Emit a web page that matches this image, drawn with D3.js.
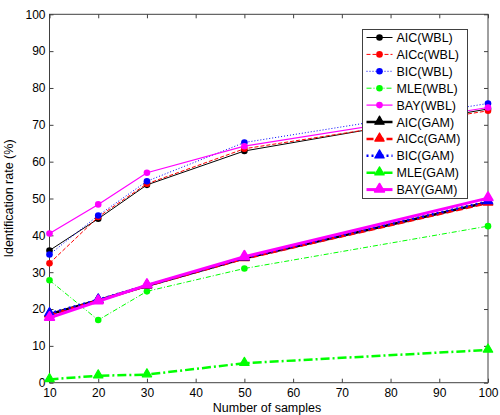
<!DOCTYPE html>
<html>
<head>
<meta charset="utf-8">
<script src="https://cdn.jsdelivr.net/npm/d3@7"></script>
<style>
body { margin: 0; background: #fff; }
svg { font-family: "Liberation Sans", Arial, sans-serif; }
</style>
</head>
<body>
<svg width="500" height="415"></svg>
<script>
var samples = [10, 20, 30, 50, 100];

var aicWbl  = [35.9, 44.5, 53.7, 62.9, 74.3];
var aiccWbl = [32.4, 45.0, 54.0, 63.5, 73.8];
var bicWbl  = [34.8, 45.4, 54.7, 65.2, 75.8];
var mleWbl  = [27.8, 17.0, 24.8, 31.0, 42.5];
var bayWbl  = [40.5, 48.4, 57.0, 64.2, 74.7];

var aicGam  = [18.6, 22.4, 26.3, 33.8, 49.0];
var aiccGam = [18.4, 22.3, 26.3, 33.7, 48.8];
var bicGam  = [18.8, 22.5, 26.4, 33.9, 49.2];
var mleGam  = [0.9, 1.9, 2.2, 5.3, 8.9];
var bayGam  = [17.6, 22.1, 26.5, 34.2, 50.1];

var labels = ["AIC(WBL)", "AICc(WBL)", "BIC(WBL)", "MLE(WBL)", "BAY(WBL)",
              "AIC(GAM)", "AICc(GAM)", "BIC(GAM)", "MLE(GAM)", "BAY(GAM)"];
var xTicks = [10, 20, 30, 40, 50, 60, 70, 80, 90, 100];
var yTicks = [0, 10, 20, 30, 40, 50, 60, 70, 80, 90, 100];

var series = [
  {name: labels[0], values: aicWbl,  color: "#000000", dash: null,        width: 1,   marker: "circle"},
  {name: labels[1], values: aiccWbl, color: "#ff0000", dash: "4,2",       width: 1,   marker: "circle"},
  {name: labels[2], values: bicWbl,  color: "#0000ff", dash: "1,2",       width: 1,   marker: "circle"},
  {name: labels[3], values: mleWbl,  color: "#00ff00", dash: "5,2,1,2",   width: 1,   marker: "circle"},
  {name: labels[4], values: bayWbl,  color: "#ff00ff", dash: null,        width: 1.2, marker: "circle"},
  {name: labels[5], values: aicGam,  color: "#000000", dash: null,        width: 2.5, marker: "triangle"},
  {name: labels[6], values: aiccGam, color: "#ff0000", dash: "7,3",       width: 2.5, marker: "triangle"},
  {name: labels[7], values: bicGam,  color: "#0000ff", dash: "2,3",       width: 2.5, marker: "triangle"},
  {name: labels[8], values: mleGam,  color: "#00ff00", dash: "9,3,2,3",   width: 2.5, marker: "triangle"},
  {name: labels[9], values: bayGam,  color: "#ff00ff", dash: null,        width: 3,   marker: "triangle"}
];

var svg = d3.select("svg");
var pLeft = 49.5, pRight = 488, pTop = 14.3, pBottom = 382.7;

var x = d3.scaleLinear().domain([10, 100]).range([pLeft, pRight]);
var y = d3.scaleLinear().domain([0, 100]).range([pBottom, pTop]);

var axisColor = "#404040";

// frame
svg.append("rect")
    .attr("x", pLeft).attr("y", pTop)
    .attr("width", pRight - pLeft).attr("height", pBottom - pTop)
    .attr("fill", "none").attr("stroke", axisColor).attr("stroke-width", 1);

function styleAxis(g) {
  g.select(".domain").remove();
  g.selectAll(".tick line").attr("stroke", axisColor);
  g.selectAll(".tick text").attr("fill", "#000").attr("font-size", 12)
    .attr("font-family", "Liberation Sans, Arial, sans-serif");
}

svg.append("g").attr("transform", "translate(0," + pBottom + ")")
    .call(d3.axisBottom(x).tickValues(xTicks).tickSizeInner(-4).tickSizeOuter(0).tickPadding(6))
    .call(styleAxis);
svg.append("g").attr("transform", "translate(0," + pTop + ")")
    .call(d3.axisTop(x).tickValues(xTicks).tickSizeInner(-4).tickSizeOuter(0).tickFormat(""))
    .call(styleAxis);
svg.append("g").attr("transform", "translate(" + pLeft + ",0)")
    .call(d3.axisLeft(y).tickValues(yTicks).tickSizeInner(-4).tickSizeOuter(0).tickPadding(4))
    .call(styleAxis);
svg.append("g").attr("transform", "translate(" + pRight + ",0)")
    .call(d3.axisRight(y).tickValues(yTicks).tickSizeInner(-4).tickSizeOuter(0).tickFormat(""))
    .call(styleAxis);

svg.append("text")
    .attr("x", 267).attr("y", 411.5)
    .attr("text-anchor", "middle").attr("font-size", 12.5)
    .text("Number of samples");

svg.append("text")
    .attr("transform", "translate(13," + (pTop + pBottom) / 2 + ") rotate(-90)")
    .attr("text-anchor", "middle").attr("font-size", 12.5)
    .text("Identification rate (%)");

var line = d3.line()
    .x(function(d, i) { return x(samples[i]); })
    .y(function(d) { return y(d); });

var tri = d3.symbol().type(d3.symbolTriangle).size(38);

function drawMarker(sel, s, cx, cy) {
  if (s.marker === "circle") {
    sel.append("circle").attr("cx", cx).attr("cy", cy).attr("r", 3.3)
        .attr("fill", s.color);
  } else {
    sel.append("path").attr("d", tri)
        .attr("transform", "translate(" + cx + "," + (cy - 0.5) + ")")
        .attr("fill", s.color).attr("stroke", s.color)
        .attr("stroke-width", s.width > 2.8 ? 2 : 1.2)
        .attr("stroke-linejoin", "round");
  }
}

var plot = svg.append("g");
series.forEach(function(s) {
  var g = plot.append("g");
  g.append("path")
      .datum(s.values)
      .attr("d", line)
      .attr("fill", "none")
      .attr("stroke", s.color)
      .attr("stroke-width", s.width)
      .attr("stroke-dasharray", s.dash);
  s.values.forEach(function(v, i) {
    drawMarker(g, s, x(samples[i]), y(v));
  });
});

// legend
var lx = 362.5, ly = 29.5, lw = 105, lh = 169;
var legend = svg.append("g");
legend.append("rect")
    .attr("x", lx).attr("y", ly).attr("width", lw).attr("height", lh)
    .attr("fill", "#fff").attr("stroke", axisColor).attr("stroke-width", 1);

series.forEach(function(s, i) {
  var cy = ly + 8 + i * 16.9;
  var g = legend.append("g");
  g.append("line")
      .attr("x1", lx + 4).attr("x2", lx + 30)
      .attr("y1", cy).attr("y2", cy)
      .attr("stroke", s.color).attr("stroke-width", s.width)
      .attr("stroke-dasharray", s.dash);
  drawMarker(g, s, lx + 17, cy);
  g.append("text")
      .attr("x", lx + 34).attr("y", cy + 4.5)
      .attr("font-size", 12.5)
      .text(s.name);
});
</script>
</body>
</html>
